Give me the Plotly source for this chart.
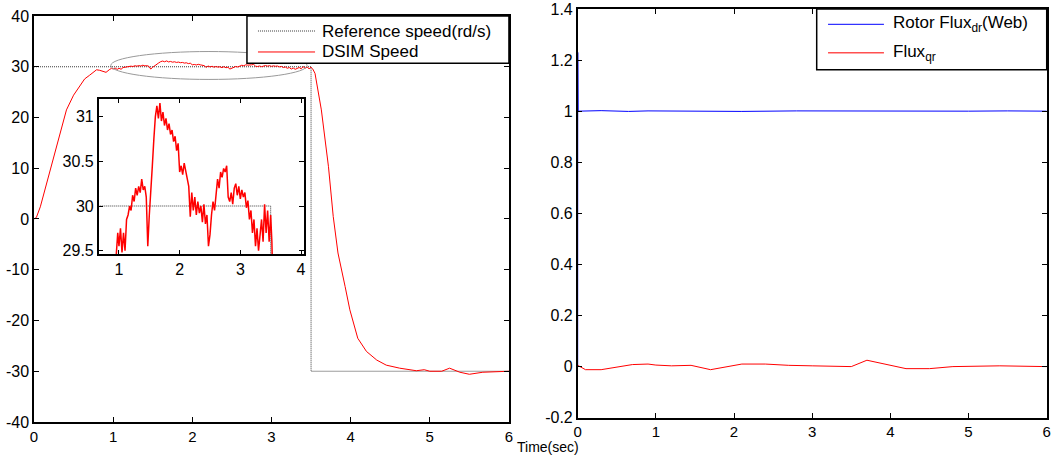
import plotly.graph_objects as go

# ---------------- data ----------------
# DSIM speed (rd/s) : start-up ramp
ramp_t = [0.0, 0.03, 0.08, 0.15, 0.24, 0.33, 0.41, 0.50, 0.56, 0.62, 0.64, 0.70, 0.76, 0.79, 0.83, 0.88, 0.91, 0.95, 0.98]
ramp_v = [0.0, 0.3, 2.4, 6.5, 11.6, 16.8, 21.5, 24.4, 25.8, 27.0, 27.6, 28.3, 29.0, 29.4, 29.3, 29.1, 28.9, 29.4, 29.7]

# DSIM speed : steady zone 1 s .. 3.5 s (also shown zoomed in the inset)
mid_t = [1.000, 1.025, 1.050, 1.075, 1.100, 1.125, 1.150, 1.175, 1.200, 1.225,
         1.250, 1.275, 1.300, 1.325, 1.350, 1.375, 1.400, 1.425, 1.450, 1.475,
         1.500, 1.525, 1.550, 1.575, 1.600, 1.625, 1.650, 1.675, 1.700, 1.725,
         1.750, 1.775, 1.800, 1.825, 1.850, 1.875, 1.900, 1.925, 1.950, 1.975,
         2.000, 2.025, 2.050, 2.075, 2.100, 2.125, 2.150, 2.175, 2.200, 2.225,
         2.250, 2.275, 2.300, 2.325, 2.350, 2.375, 2.400, 2.425, 2.450, 2.475,
         2.500, 2.525, 2.550, 2.575, 2.600, 2.625, 2.650, 2.675, 2.700, 2.725,
         2.750, 2.775, 2.800, 2.825, 2.850, 2.875, 2.900, 2.925, 2.950, 2.975,
         3.000, 3.025, 3.050, 3.075, 3.100, 3.125, 3.150, 3.175, 3.200, 3.225,
         3.250, 3.275, 3.300, 3.325, 3.350, 3.375, 3.400, 3.425, 3.450, 3.475, 3.500]
mid_v = [29.55, 29.75, 29.48, 29.70, 29.50, 29.85, 29.90, 30.00, 29.95, 30.12,
         30.05, 30.20, 30.12, 30.22, 30.15, 30.30, 30.18, 30.22, 30.10, 29.55,
         29.90, 30.25, 30.45, 30.75, 31.00, 31.12, 30.98, 31.15, 30.95, 31.05,
         30.90, 30.98, 30.85, 30.92, 30.80, 30.85, 30.72, 30.78, 30.62, 30.70,
         30.38, 30.45, 30.35, 30.48, 30.38, 30.30, 30.22, 29.88, 30.15, 29.95,
         30.10, 29.90, 30.05, 29.92, 30.00, 29.82, 30.02, 29.80, 29.90, 29.55,
         29.68, 29.90, 30.05, 29.95, 30.15, 30.30, 30.20, 30.38, 30.32, 30.42,
         30.38, 30.45, 30.10, 30.05, 30.15, 30.02, 30.20, 30.25, 30.12, 30.22,
         30.08, 30.18, 30.10, 30.15, 29.98, 30.06, 29.85, 29.95, 29.70, 29.85,
         29.55, 29.75, 29.50, 29.68, 29.85, 29.60, 30.02, 29.70, 29.95, 29.60, 29.90]

# DSIM speed : speed reversal
rev_t = [3.52, 3.55, 3.63, 3.72, 3.78, 3.84, 3.93, 3.99, 4.09, 4.20, 4.33, 4.45, 4.62,
         4.83, 4.93, 5.00, 5.15, 5.25, 5.38, 5.50, 5.67, 5.88, 6.00]
rev_v = [29.6, 28.7, 21.5, 10.3, 0.5, -6.7, -13.3, -17.9, -23.5, -26.1, -27.8, -28.8, -29.4,
         -29.9, -29.7, -30.0, -30.0, -29.4, -30.2, -30.6, -30.2, -30.1, -30.0]

# Reference speed
ref_t = [0.0, 3.5, 3.5, 6.0]
ref_v = [30.0, 30.0, -30.0, -30.0]

# Rotor fluxes (Web)
fluxd_t = [0.0, 0.001, 0.003, 0.006, 0.30, 0.65, 0.90, 1.60, 2.10, 2.80, 3.40, 3.90, 4.40, 5.00, 5.50, 6.00]
fluxd_v = [0.0, 1.23, 1.05, 1.00, 1.002, 0.999, 1.001, 1.000, 0.999, 1.001, 1.000, 1.001, 0.999, 1.000, 1.001, 1.000]
fluxq_t = [0.0, 0.10, 0.30, 0.50, 0.70, 0.90, 1.00, 1.20, 1.45, 1.70, 2.00, 2.10, 2.40, 2.70,
           3.00, 3.50, 3.70, 4.00, 4.20, 4.50, 4.80, 5.40, 6.00]
fluxq_v = [0.005, -0.012, -0.012, -0.003, 0.008, 0.010, 0.006, 0.003, 0.005, -0.012, 0.005, 0.010,
           0.010, 0.005, 0.003, 0.000, 0.025, 0.005, -0.008, -0.008, 0.000, 0.003, 0.000]

speed_labels = ["Reference speed(rd/s)", "DSIM Speed"]
flux_labels = ["Rotor Flux<sub>dr</sub>(Web)", "Flux<sub>qr</sub>"]

speed_t = ramp_t + mid_t + rev_t
speed_v = ramp_v + mid_v + rev_v

# ---------------- figure ----------------
FONT = "Liberation Sans, Arial, sans-serif"
REF_COL = "#3a3a3a"
fig = go.Figure()

# main speed plot
fig.add_trace(go.Scatter(x=ref_t, y=ref_v, mode="lines", xaxis="x", yaxis="y",
                         line=dict(color=REF_COL, width=1, dash="1px,1px"), showlegend=False))
fig.add_trace(go.Scatter(x=speed_t, y=speed_v, mode="lines", xaxis="x", yaxis="y",
                         line=dict(color="#ff0000", width=1), showlegend=False))
# inset
fig.add_trace(go.Scatter(x=ref_t, y=ref_v, mode="lines", xaxis="x3", yaxis="y3",
                         line=dict(color=REF_COL, width=1, dash="1px,1px"), showlegend=False))
fig.add_trace(go.Scatter(x=speed_t, y=speed_v, mode="lines", xaxis="x3", yaxis="y3",
                         line=dict(color="#ff0000", width=1.5), showlegend=False))
# flux plot
fig.add_trace(go.Scatter(x=fluxd_t, y=fluxd_v, mode="lines", xaxis="x2", yaxis="y2",
                         line=dict(color="#0000ff", width=1), showlegend=False))
fig.add_trace(go.Scatter(x=fluxq_t, y=fluxq_v, mode="lines", xaxis="x2", yaxis="y2",
                         line=dict(color="#ff0000", width=1), showlegend=False))

ax_common = dict(showline=True, linecolor="black", linewidth=1.5, mirror="ticks",
                 ticks="inside", ticklen=5, tickcolor="black", tickwidth=1,
                 showgrid=False, zeroline=False, automargin=False)
yfont = dict(tickfont=dict(family=FONT, size=16, color="black"))
xfont = dict(tickfont=dict(family=FONT, size=15, color="black"))

def fmt(v):
    return "%g" % v

xt = [0, 1, 2, 3, 4, 5, 6]
yt1 = [-40, -30, -20, -10, 0, 10, 20, 30, 40]
yt2 = [-0.2, 0, 0.2, 0.4, 0.6, 0.8, 1, 1.2, 1.4]
xt3 = [1, 2, 3, 4]
yt3 = [29.5, 30, 30.5, 31]

fig.update_layout(
    width=1059, height=456, margin=dict(l=0, r=0, t=0, b=0, autoexpand=False),
    paper_bgcolor="white", plot_bgcolor="white", showlegend=False,
    font=dict(family=FONT, size=16, color="black"),
    xaxis=dict(domain=[0.0321, 0.4806], range=[0, 6], anchor="y",
               tickvals=xt, ticktext=[fmt(v) for v in xt], **ax_common, **xfont),
    yaxis=dict(domain=[0.0746, 0.9649], range=[-40, 40], anchor="x",
               tickvals=yt1, ticktext=[fmt(v) for v in yt1], **ax_common, **yfont),
    xaxis2=dict(domain=[0.5455, 0.9884], range=[0, 6], anchor="y2",
                tickvals=xt, ticktext=[fmt(v) for v in xt], **ax_common, **xfont),
    yaxis2=dict(domain=[0.0840, 0.9803], range=[-0.2, 1.4], anchor="x2",
                tickvals=yt2, ticktext=[fmt(v) for v in yt2], **ax_common, **yfont),
    xaxis3=dict(domain=[0.0932, 0.2871], range=[0.666, 4.05], anchor="y3",
                tickvals=xt3, ticktext=[fmt(v) for v in xt3], **ax_common, **yfont),
    yaxis3=dict(domain=[0.4423, 0.7836], range=[29.46, 31.2], anchor="x3",
                tickvals=yt3, ticktext=[fmt(v) for v in yt3], **ax_common, **yfont),
)

shapes = []
# ellipse highlighting the zoomed zone
shapes.append(dict(type="circle", xref="x", yref="y", x0=0.97, x1=3.45, y0=27.5, y1=33.0,
                   line=dict(color="#9a9a9a", width=1)))

# legend 1 (speed)
shapes.append(dict(type="rect", xref="paper", yref="paper", x0=0.2332, x1=0.4806, y0=0.8612, y1=0.9649,
                   line=dict(color="black", width=1.5), fillcolor="white", layer="above"))
shapes.append(dict(type="line", xref="paper", yref="paper", x0=0.2436, x1=0.2975, y0=0.932, y1=0.932,
                   line=dict(color=REF_COL, width=1, dash="1px,1px")))
shapes.append(dict(type="line", xref="paper", yref="paper", x0=0.2436, x1=0.2975, y0=0.886, y1=0.886,
                   line=dict(color="#ff0000", width=1)))
# legend 2 (flux)
shapes.append(dict(type="rect", xref="paper", yref="paper", x0=0.7712, x1=0.9884, y0=0.8471, y1=0.9803,
                   line=dict(color="black", width=1.5), fillcolor="white", layer="above"))
shapes.append(dict(type="line", xref="paper", yref="paper", x0=0.7819, x1=0.8347, y0=0.9467, y1=0.9467,
                   line=dict(color="#0000ff", width=1)))
shapes.append(dict(type="line", xref="paper", yref="paper", x0=0.7819, x1=0.8347, y0=0.8844, y1=0.8844,
                   line=dict(color="#ff5050", width=1.5)))
fig.update_layout(shapes=shapes)

LEG_FS = 17
ann = []
ann.append(dict(xref="paper", yref="paper", x=0.3022, y=0.932, text=speed_labels[0], showarrow=False,
                xanchor="left", yanchor="middle", font=dict(family=FONT, size=LEG_FS, color="black")))
ann.append(dict(xref="paper", yref="paper", x=0.3022, y=0.886, text=speed_labels[1], showarrow=False,
                xanchor="left", yanchor="middle", font=dict(family=FONT, size=LEG_FS, color="black")))
ann.append(dict(xref="paper", yref="paper", x=0.8414, y=0.9467, text=flux_labels[0], showarrow=False,
                xanchor="left", yanchor="middle", font=dict(family=FONT, size=LEG_FS, color="black")))
ann.append(dict(xref="paper", yref="paper", x=0.8414, y=0.8844, text=flux_labels[1], showarrow=False,
                xanchor="left", yanchor="middle", font=dict(family=FONT, size=LEG_FS, color="black")))
ann.append(dict(xref="paper", yref="paper", x=548 / 1059, y=1 - 447 / 456, text="Time(sec)", showarrow=False,
                xanchor="center", yanchor="middle", font=dict(family=FONT, size=14, color="black")))
fig.update_layout(annotations=ann)

fig.write_html("out.html", config={"displayModeBar": False},
               post_script="document.body.style.margin='0';document.body.style.overflow='hidden';")
